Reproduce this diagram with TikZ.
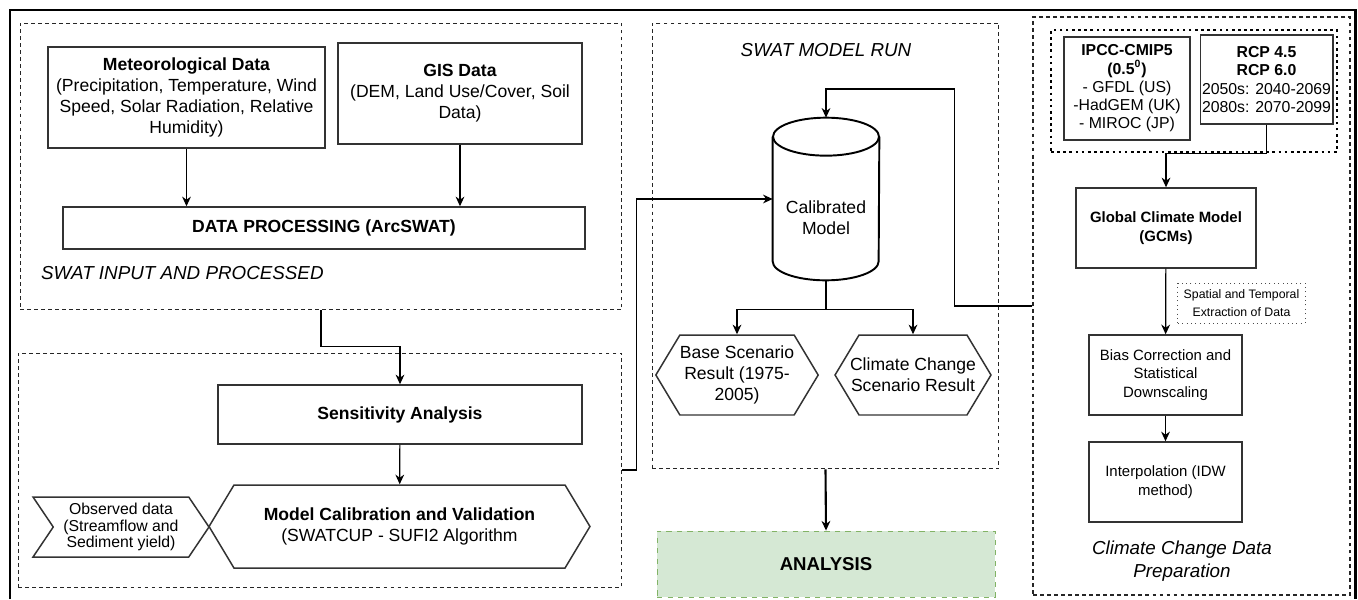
\documentclass[tikz,border=0pt]{standalone}
\usepackage{fontspec}
\setmainfont{Liberation Sans}
\usetikzlibrary{arrows.meta,shapes.symbols}

\tikzset{
  box/.style={draw=black!80, line width=0.85pt, align=center, inner sep=2pt,
    font=\fontsize{10}{12}\selectfont},
  smallbox/.style={box, font=\fontsize{8.5}{10.5}\selectfont},
  hexbox/.style={box, signal, signal to=east and west, signal pointer angle=118, inner xsep=0pt},
  panel/.style={draw=black!85, dashed, dash pattern=on 2.2pt off 1.8pt, line width=0.55pt,
    inner sep=0pt},
  arr/.style={-{Stealth[length=5.5pt,width=5pt]}, line width=0.7pt},
  tag/.style={font=\fontsize{10.7}{13}\selectfont\itshape, align=center}
}
\definecolor{anagreen}{HTML}{D5E8D4}
\definecolor{anaedge}{HTML}{82B366}

\begin{document}
\begin{tikzpicture}[x=0.02cm, y=-0.02cm]
    \useasboundingbox (0,0) rectangle (1358,599);
    % outer frame
    \draw[line width=1.7pt] (10,599) -- (10,10) -- (1355,10) -- (1355,599);

    % SWAT input and processing
    \node[panel, minimum width=12.04cm, minimum height=5.74cm] (inpanel) at (321,166.5) {};
    \node[box, minimum width=5.54cm, minimum height=2.02cm] (met) at (186.5,97.5)
        {\textbf{Meteorological Data}\\(Precipitation, Temperature, Wind\\Speed, Solar Radiation, Relative\\Humidity)};
    \node[box, minimum width=4.88cm, minimum height=2.02cm] (gis) at (460,93.5)
        {\textbf{GIS Data}\\(DEM, Land Use/Cover, Soil\\Data)};
    \node[box, minimum width=10.44cm, minimum height=0.84cm] (dp) at (324,228)
        {\textbf{DATA PROCESSING (ArcSWAT)}};
    \node[tag, anchor=west] (intag) at (35,273) {SWAT INPUT AND PROCESSED};
    \draw[arr] (met.south) -- (met.south |- dp.north);
    \draw[arr] (gis.south) -- (gis.south |- dp.north);

    % calibration and validation
    \node[panel, minimum width=12.08cm, minimum height=4.68cm] (calpanel) at (320,470) {};
    \node[box, minimum width=7.28cm, minimum height=1.18cm] (sens) at (400,414.5)
        {\textbf{Sensitivity Analysis}};
    \node[hexbox, minimum width=7.62cm, minimum height=1.66cm] (calib) at (399.5,526.5)
        {\textbf{Model Calibration and Validation}\\(SWATCUP - SUFI2 Algorithm};
    \node[box, signal, signal from=west, signal to=east, signal pointer angle=112,
        minimum width=3.52cm, minimum height=1.2cm, font=\fontsize{9}{9.6}\selectfont] (obs) at (121,527)
        {Observed data\\(Streamflow and\\Sediment yield)};
    \draw[arr] (inpanel.south) -- ++(0,36) -| (sens.north);
    \draw[arr] (sens) -- (calib);

    % SWAT model run
    \node[panel, minimum width=6.94cm, minimum height=8.92cm] (runpanel) at (825.5,246) {};
    \node[tag] (runtag) at (826,50) {SWAT MODEL RUN};
    \node[minimum width=2.12cm, minimum height=3.24cm, inner sep=0pt] (model) at (826,199) {};
    \draw[line width=1.1pt] ([yshift=-0.38cm]model.north west) -- ([yshift=0.38cm]model.south west)
        arc[start angle=180, end angle=360, x radius=1.06cm, y radius=0.38cm]
        -- ([yshift=-0.38cm]model.north east);
    \draw[line width=1.1pt] ([yshift=-0.38cm]model.north) ellipse [x radius=1.06cm, y radius=0.38cm];
    \node[align=center, font=\fontsize{10}{12}\selectfont] (modeltext) at (826,218) {Calibrated\\Model};
    \node[hexbox, minimum width=3.2cm, minimum height=1.6cm] (base) at (737,375)
        {Base Scenario\\Result (1975-\\2005)};
    \node[hexbox, inner xsep=-5.5pt, minimum width=3.12cm, minimum height=1.6cm] (clim) at (913,375)
        {Climate Change\\Scenario Result};
    \draw[line width=0.7pt] (model.south) -- ++(0,29) coordinate (split);
    \draw[arr] (split) -| (base.north);
    \draw[arr] (split) -| (clim.north);
    \draw[arr] (calpanel.east) -- ++(14,0) |- (model.west);

    % analysis
    \node[draw=anaedge, dashed, fill=anagreen, line width=0.5pt, minimum width=6.76cm,
        minimum height=1.32cm, font=\fontsize{10.6}{12}\selectfont\bfseries] (ana) at (826,564) {ANALYSIS};
    \draw[arr, line width=1.2pt] (runpanel.south) -- (ana.north);

    % climate change data preparation
    \node[panel, line width=0.8pt, minimum width=6.34cm, minimum height=11.56cm] (ccpanel) at (1191.5,306) {};
    \node[draw, dotted, line width=1.5pt, minimum width=5.72cm, minimum height=2.44cm,
        inner sep=0pt] (gcmgroup) at (1194,91) {};
    \node[box, minimum width=2.52cm, minimum height=2.06cm, font=\fontsize{9}{10.4}\selectfont] (ipcc) at (1127,88.5)
        {\textbf{IPCC-CMIP5}\\\textbf{(0.5\textsuperscript{0})}\\- GFDL (US)\\-HadGEM (UK)\\- MIROC (JP)};
    \node[box, minimum width=2.54cm, minimum height=1.78cm, inner sep=1pt,
        font=\fontsize{9}{10.4}\selectfont] (rcp) at (1266.5,79.5)
        {\textbf{RCP 4.5}\\\textbf{RCP 6.0}\\2050s: 2040-2069\\2080s: 2070-2099};
    \node[smallbox, minimum width=3.6cm, minimum height=1.6cm] (gcm) at (1166,228)
        {\textbf{Global Climate Model}\\\textbf{(GCMs)}};
    \node[draw=black!70, dotted, line width=0.5pt, align=center, minimum width=2.54cm,
        minimum height=0.8cm, font=\fontsize{7}{10}\selectfont] (extract) at (1241.5,303)
        {Spatial and Temporal\\Extraction of Data};
    \node[smallbox, minimum width=3.06cm, minimum height=1.6cm] (bias) at (1165.5,375)
        {Bias Correction and\\Statistical\\Downscaling};
    \node[smallbox, minimum width=3.06cm, minimum height=1.6cm] (interp) at (1165.5,482)
        {Interpolation (IDW\\method)};
    \node[tag] (cctag) at (1182,561) {Climate Change Data\\Preparation};
    \draw[arr] (rcp.south) -- ++(0,29) -| (gcm.north);
    \draw[arr] (gcm) -- (bias);
    \draw[arr] (bias) -- (interp);
    \draw[arr] (ccpanel.west) -- ++(-78,0) -- ++(0,-217) -| (model.north);
\end{tikzpicture}
\end{document}
